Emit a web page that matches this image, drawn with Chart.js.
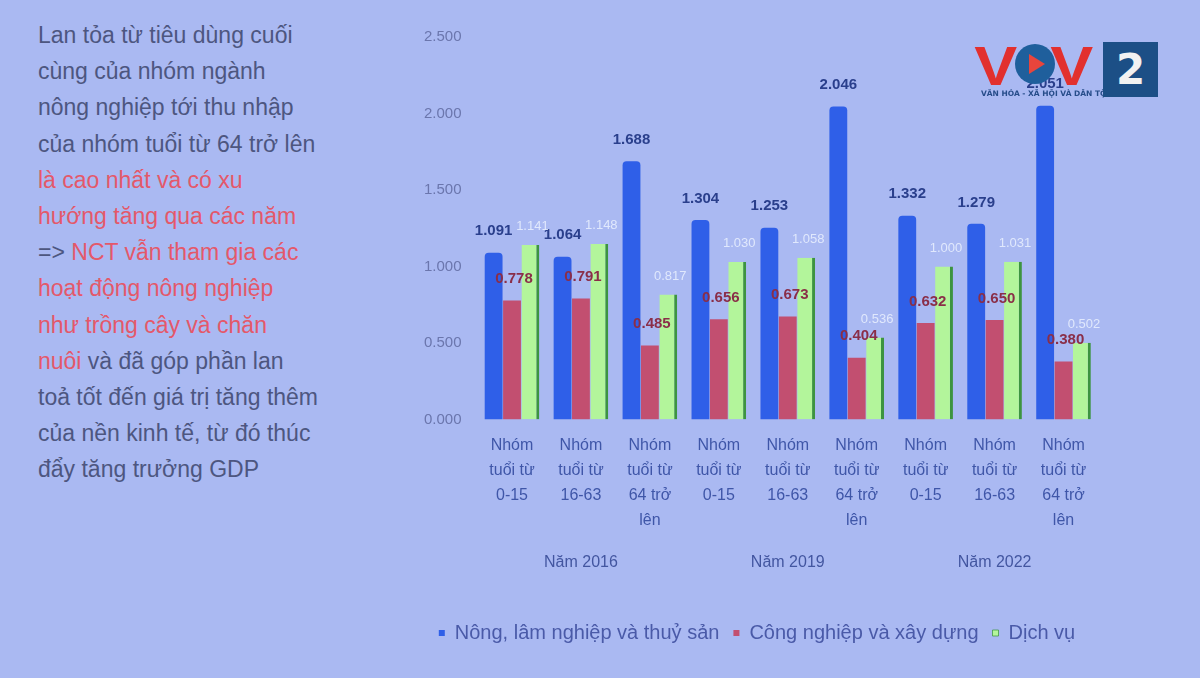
<!DOCTYPE html>
<html>
<head>
<meta charset="utf-8">
<script src="https://cdn.jsdelivr.net/npm/chart.js@4/dist/chart.umd.min.js"></script>
<style>
  html, body { margin: 0; padding: 0; }
  body { width: 1200px; height: 678px; background: #aab9f2; position: relative; overflow: hidden; font-family: "Liberation Sans", Arial, sans-serif; }
  #note { position: absolute; left: 38px; top: 17px; width: 340px; font-size: 23px; line-height: 36.2px; color: #4d5680; }
  #note .hl { color: #e4586a; }
  #wrap { position: absolute; left: 400px; top: 0; width: 800px; height: 678px; }
  #logo { position: absolute; left: 975px; top: 42px; width: 185px; height: 56px; }
  #logo .v { position: absolute; top: -9px; font: bold 56px "Liberation Sans", sans-serif; color: #e2302e; transform: scaleX(1.15); }
  #logo .ball { position: absolute; left: 40px; top: 2px; width: 40px; height: 40px; border-radius: 50%; background: #1f5f9c; }
  #logo .ball:after { content: ""; position: absolute; left: 14px; top: 10px; border-left: 16px solid #e8453c; border-top: 10px solid transparent; border-bottom: 10px solid transparent; }
  #logo .sub { position: absolute; left: 6px; top: 47px; font: bold 7.5px "DejaVu Sans", sans-serif; color: #274d8a; white-space: nowrap; }
  #logo .two { position: absolute; left: 128px; top: 0; width: 55px; height: 55px; background: #1c4f86; color: #f2f2f2; font: bold 42px "DejaVu Sans", sans-serif; text-align: center; line-height: 55px; }
</style>
</head>
<body>
<div id="note">
  Lan tỏa từ tiêu dùng cuối<br>cùng của nhóm ngành<br>nông nghiệp tới thu nhập<br>của nhóm tuổi từ 64 trở lên<br>
  <span class="hl">là cao nhất và có xu<br>hướng tăng qua các năm</span><br>
  =&gt; <span class="hl">NCT vẫn tham gia các<br>hoạt động nông nghiệp<br>như trồng cây và chăn<br>nuôi</span> và đã góp phần lan<br>toả tốt đến giá trị tăng thêm<br>của nền kinh tế, từ đó thúc<br>đẩy tăng trưởng GDP
</div>
<div id="wrap"><canvas id="chart" width="800" height="678"></canvas></div>
<div id="logo">
  <div class="v" style="left:2px">V</div>
  <div class="ball"></div>
  <div class="v" style="left:78px">V</div>
  <div class="sub">VĂN HÓA - XÃ HỘI VÀ DÂN TỘC</div>
  <div class="two">2</div>
</div>
<script>
const groups = [
  ['Nhóm', 'tuổi từ', '0-15'],
  ['Nhóm', 'tuổi từ', '16-63'],
  ['Nhóm', 'tuổi từ', '64 trở', 'lên'],
  ['Nhóm', 'tuổi từ', '0-15'],
  ['Nhóm', 'tuổi từ', '16-63'],
  ['Nhóm', 'tuổi từ', '64 trở', 'lên'],
  ['Nhóm', 'tuổi từ', '0-15'],
  ['Nhóm', 'tuổi từ', '16-63'],
  ['Nhóm', 'tuổi từ', '64 trở', 'lên']
];
const years = ['Năm 2016', 'Năm 2019', 'Năm 2022'];
const nongNghiep = [1.091, 1.064, 1.688, 1.304, 1.253, 2.046, 1.332, 1.279, 2.051];
const congNghiep = [0.778, 0.791, 0.485, 0.656, 0.673, 0.404, 0.632, 0.650, 0.380];
const dichVu = [1.141, 1.148, 0.817, 1.030, 1.058, 0.536, 1.000, 1.031, 0.502];
const yTicks = [0, 0.5, 1, 1.5, 2, 2.5];

const font = '"Liberation Sans", Arial, sans-serif';

// ve nhan gia tri tren cot
const valueLabels = {
  id: 'valueLabels',
  afterDatasetsDraw(chart) {
    const ctx = chart.ctx;
    const styles = [
      { color: '#2a3f8c', dy: 14, dx: 0 },
      { color: '#8a2e48', dy: 14, dx: 2 },
      { color: 'rgba(238,244,255,0.8)', dy: 12, dx: 2 }
    ];
    ctx.save();
    ctx.textAlign = 'center';
    ctx.textBaseline = 'bottom';
    chart.data.datasets.forEach((ds, i) => {
      ctx.font = (i === 2 ? '13px ' : 'bold 15px ') + font;
      const meta = chart.getDatasetMeta(i);
      meta.data.forEach((bar, j) => {
        ctx.fillStyle = styles[i].color;
        ctx.fillText(ds.data[j].toFixed(3), bar.x + styles[i].dx, bar.y - styles[i].dy);
      });
    });
    ctx.restore();
  }
};

new Chart(document.getElementById('chart'), {
  type: 'bar',
  data: {
    labels: groups,
    datasets: [
      { label: 'Nông, lâm nghiệp và thuỷ sản', data: nongNghiep, backgroundColor: '#2f5fe8', borderRadius: { topLeft: 4, topRight: 4 }, borderSkipped: 'bottom' },
      { label: 'Công nghiệp và xây dựng', data: congNghiep, backgroundColor: '#c24f70' },
      { label: 'Dịch vụ', data: dichVu, backgroundColor: '#b3f59b', borderColor: '#3d9440', borderWidth: { right: 3, top: 0, left: 0, bottom: 0 } }
    ]
  },
  options: {
    responsive: false,
    animation: false,
    layout: { padding: { left: 16, right: 102, top: 37, bottom: 25 } },
    datasets: { bar: { categoryPercentage: 0.8, barPercentage: 0.97 } },
    scales: {
      y: {
        min: 0, max: 2.5,
        afterBuildTicks: s => { s.ticks = yTicks.map(v => ({ value: v })); },
        grid: { display: false },
        border: { display: false },
        ticks: { color: '#6b76ad', font: { family: font, size: 15 }, padding: 8, callback: v => v.toFixed(3) }
      },
      x: {
        grid: { display: false },
        border: { display: false },
        ticks: { color: '#3f56a8', font: { family: font, size: 16, lineHeight: 1.55 }, padding: 6, maxRotation: 0, autoSkip: false }
      },
      x2: {
        type: 'category',
        labels: years,
        position: 'bottom',
        offset: true,
        grid: { display: false },
        border: { display: false },
        ticks: { color: '#4356a0', font: { family: font, size: 16 }, padding: 6 },
        afterFit: s => { s.height += 31; }
      }
    },
    plugins: {
      legend: {
        position: 'bottom',
        labels: { color: '#4a5aa8', font: { family: font, size: 20 }, boxWidth: 6, boxHeight: 6, padding: 14 }
      },
      tooltip: { enabled: false }
    }
  },
  plugins: [valueLabels]
});
</script>
</body>
</html>
